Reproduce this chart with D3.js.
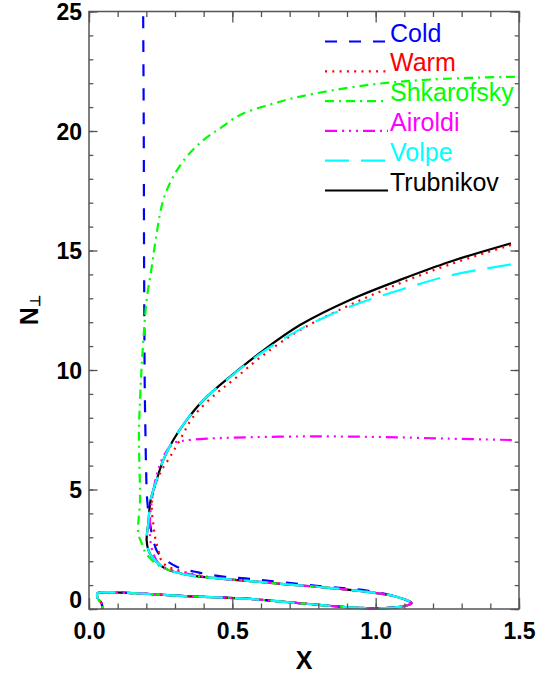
<!DOCTYPE html>
<html><head><meta charset="utf-8">
<script src="https://cdn.jsdelivr.net/npm/d3@7/dist/d3.min.js"></script>
<style>body{margin:0;background:#fff}svg{display:block}</style>
</head><body><div id="chart"></div>
<script>
// ---- data ----
const xTicksMajor = [0, 0.5, 1.0, 1.5];
const xTickLabels = ["0.0", "0.5", "1.0", "1.5"];
const yTicksMajor = [0, 5, 10, 15, 20, 25];
const yTickLabels = ["0", "5", "10", "15", "20", "25"];

// shared lower branch and the small loop near N=0 (all models coincide there)
const branchX = [0.451, 0.562, 0.68, 0.794, 0.969];
const branchN = [1.28, 1.17, 1.04, 0.93, 0.72];
const loopX = [1.073, 1.125, 1.09, 1.003, 0.91, 0.736, 0.562, 0.335, 0.160, 0.05, 0.03, 0.03, 0.044, 0.046];
const loopN = [0.51, 0.24, 0.10, 0.03, 0.07, 0.24, 0.42, 0.54, 0.66, 0.70, 0.66, 0.45, 0.24, 0.0];

const coldX = [0.189, 0.191, 0.192, 0.194, 0.195, 0.197, 0.199, 0.203, 0.213, 0.224, 0.242, 0.306, 0.381, 0.474, 0.562, 0.794, 0.969];
const coldN = [24.8, 20, 15, 10, 8.74, 7.3, 5.95, 4.56, 3.59, 2.89, 2.33, 1.77, 1.53, 1.35, 1.26, 0.97, 0.77];

const warmX = [1.472, 1.259, 1.085, 0.91, 0.736, 0.6, 0.5, 0.445, 0.364, 0.317, 0.283, 0.248, 0.224, 0.219, 0.224, 0.230, 0.242, 0.259, 0.341];
const warmN = [15.23, 14.42, 13.63, 12.72, 11.67, 10.55, 9.55, 9.03, 8.05, 7.07, 6.37, 5.68, 4.84, 4.14, 3.59, 3.03, 2.47, 1.91, 1.52];

const shkX = [1.486, 1.2, 0.969, 0.736, 0.63, 0.527, 0.457, 0.399, 0.341, 0.294, 0.259, 0.236, 0.219, 0.201, 0.19, 0.183, 0.178, 0.174, 0.176, 0.178, 0.172, 0.184, 0.195, 0.213, 0.248, 0.341];
const shkN = [22.27, 22.16, 21.92, 21.44, 21.1, 20.67, 20.11, 19.62, 18.93, 18.09, 17.11, 15.72, 14.32, 12.93, 11.3, 10, 8.74, 7.35, 5.95, 4.56, 3.17, 2.75, 2.4, 2.12, 1.78, 1.45];

const airX = [1.475, 1.25, 1.0, 0.75, 0.5, 0.4, 0.329, 0.294, 0.259, 0.236, 0.22, 0.213, 0.213, 0.224, 0.248, 0.341];
const airN = [7.07, 7.13, 7.2, 7.22, 7.17, 7.12, 7.04, 6.93, 6.37, 5.6, 4.6, 3.8, 3.0, 2.33, 1.85, 1.48];

const volX = [1.472, 1.259, 1.085, 0.91, 0.736, 0.6, 0.5, 0.399, 0.341, 0.294, 0.259, 0.236, 0.215, 0.207, 0.201, 0.207, 0.219, 0.265, 0.335];
const volN = [14.42, 13.95, 13.35, 12.65, 11.7, 10.7, 9.78, 8.74, 7.91, 7.07, 6.23, 5.40, 4.56, 3.59, 2.89, 2.47, 2.19, 1.70, 1.45];

const trubX = [1.472, 1.259, 1.085, 0.91, 0.736, 0.6, 0.5, 0.399, 0.341, 0.294, 0.259, 0.236, 0.215, 0.207, 0.201, 0.207, 0.219, 0.265, 0.335];
const trubN = [15.30, 14.53, 13.77, 12.93, 11.88, 10.75, 9.8, 8.74, 7.91, 7.07, 6.23, 5.40, 4.56, 3.59, 2.89, 2.47, 2.19, 1.70, 1.45];

const seriesNames = ["Cold", "Warm", "Shkarofsky", "Airoldi", "Volpe", "Trubnikov"];
const seriesColors = ["#0000ff", "#ff0000", "#00ff00", "#ff00ff", "#00ffff", "#000000"];
const seriesDash = ["12,12", "2,5.3", "9,5,2,5", "12,5,2,5,2,5,2,5", "24,12", null];

// ---- build ----
function pts(xs, ns) { return xs.map((v, i) => [v, ns[i]]); }
const series = [
  pts(coldX.concat(loopX), coldN.concat(loopN)),
  pts(warmX.concat(branchX, loopX), warmN.concat(branchN, loopN)),
  pts(shkX.concat(branchX, loopX), shkN.concat(branchN, loopN)),
  pts(airX.concat(branchX, loopX), airN.concat(branchN, loopN)),
  pts(volX.concat(branchX, loopX), volN.concat(branchN, loopN)),
  pts(trubX.concat(branchX, loopX), trubN.concat(branchN, loopN))
];

const W = 540, H = 679;
const L = 89, R = 519, T = 11.5, B = 609;
const svg = d3.select("#chart").append("svg").attr("width", W).attr("height", H);
const x = d3.scaleLinear().domain([0, 1.5]).range([L, R]);
const y = d3.scaleLinear().domain([0, 25]).range([B, T]);

const line = d3.line().x(d => x(d[0])).y(d => y(d[1])).curve(d3.curveCatmullRom.alpha(0.5));

const clip = svg.append("clipPath").attr("id", "clip").append("rect")
  .attr("x", L).attr("y", T).attr("width", R - L).attr("height", B - T + 2);
const plot = svg.append("g").attr("clip-path", "url(#clip)");

const order = [5, 0, 1, 2, 3, 4];
order.forEach(i => {
  plot.append("path").datum(series[i]).attr("d", line)
    .attr("fill", "none").attr("stroke", seriesColors[i]).attr("stroke-width", 2.2)
    .attr("stroke-dasharray", seriesDash[i]).attr("stroke-linejoin", "round");
});

// axes
const axisColor = "#555";
const font = "'Liberation Sans', Arial, Helvetica, sans-serif";
const xMinor = d3.range(0, 1.5001, 0.1);
const yMinor = d3.range(0, 25.001, 1);
function style(g) { g.select(".domain").remove(); g.selectAll("line").attr("stroke", axisColor).attr("stroke-width", 1.3); }

svg.append("g").attr("transform", `translate(0,${B})`)
  .call(d3.axisBottom(x).tickValues(xMinor).tickSize(-5.5).tickFormat("")).call(style);
svg.append("g").attr("transform", `translate(0,${B})`)
  .call(d3.axisBottom(x).tickValues(xTicksMajor).tickSize(-11).tickPadding(14)
    .tickFormat((d, i) => xTickLabels[i])).call(style)
  .selectAll("text").attr("font-family", font).attr("font-weight", "bold").attr("font-size", 23).attr("fill", "#000");
svg.append("g").attr("transform", `translate(0,${T})`)
  .call(d3.axisTop(x).tickValues(xMinor).tickSize(-5.5).tickFormat("")).call(style);
svg.append("g").attr("transform", `translate(0,${T})`)
  .call(d3.axisTop(x).tickValues(xTicksMajor).tickSize(-11).tickFormat("")).call(style);

const yl = svg.append("g").attr("transform", `translate(${L},0)`);
yl.call(d3.axisLeft(y).tickValues(yMinor).tickSize(-4.3).tickFormat("")).call(style);
const ylab = svg.append("g").attr("transform", `translate(${L},0)`)
  .call(d3.axisLeft(y).tickValues(yTicksMajor).tickSize(-8.5).tickPadding(7)
    .tickFormat((d, i) => yTickLabels[i])).call(style);
ylab.selectAll("text").attr("font-family", font).attr("font-weight", "bold").attr("font-size", 23).attr("fill", "#000")
  .attr("dy", d => d === 0 ? "-0.05em" : "0.35em");
svg.append("g").attr("transform", `translate(${R},0)`)
  .call(d3.axisRight(y).tickValues(yMinor).tickSize(-4.3).tickFormat("")).call(style);
svg.append("g").attr("transform", `translate(${R},0)`)
  .call(d3.axisRight(y).tickValues(yTicksMajor).tickSize(-8.5).tickFormat("")).call(style);

svg.append("rect").attr("x", L).attr("y", T).attr("width", R - L).attr("height", B - T)
  .attr("fill", "none").attr("stroke", axisColor).attr("stroke-width", 1.5);

// axis titles
svg.append("text").attr("x", (L + R) / 2).attr("y", 669).attr("text-anchor", "middle")
  .attr("font-family", font).attr("font-weight", "bold").attr("font-size", 25).text("X");
const yt = svg.append("text").attr("transform", `translate(38,${(T + B) / 2}) rotate(-90)`)
  .attr("text-anchor", "middle").attr("font-family", font).attr("font-weight", "bold").attr("font-size", 25);
yt.append("tspan").text("N");
yt.append("tspan").attr("font-size", 14).attr("dy", 2).text("⊥");

// legend
const legY0 = 41.5, legDy = 29.8;
seriesNames.forEach((n, i) => {
  const ly = legY0 + i * legDy;
  svg.append("line").attr("x1", 325).attr("x2", 388).attr("y1", ly).attr("y2", ly)
    .attr("stroke", seriesColors[i]).attr("stroke-width", 2.2).attr("stroke-dasharray", seriesDash[i]);
  svg.append("text").attr("x", 390).attr("y", ly).attr("font-family", font).attr("font-size", 25)
    .attr("fill", seriesColors[i]).text(n);
});
</script></body></html>
